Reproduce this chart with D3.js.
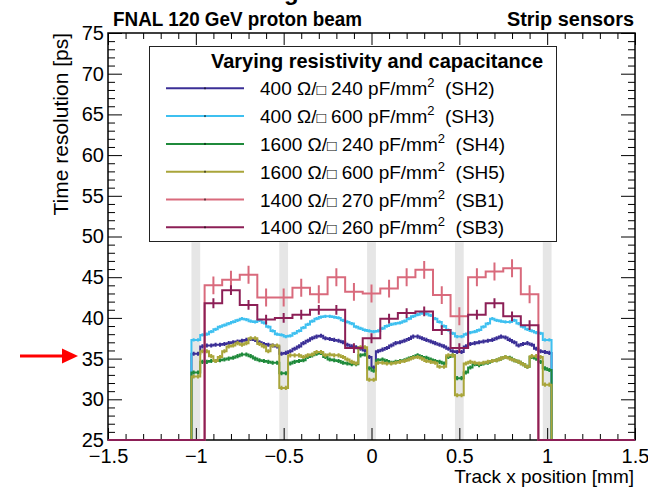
<!DOCTYPE html>
<html>
<head>
<meta charset="utf-8">
<script src="https://cdn.jsdelivr.net/npm/d3@7"></script>
<style>
  body { margin: 0; background: #fff; }
  svg text { font-family: "Liberation Sans", Arial, Helvetica, sans-serif; fill: #000; }
</style>
</head>
<body>
<svg id="chart" width="648" height="488"></svg>
<script>
// --- data ---
const seriesNames = ['SH2', 'SH3', 'SH4', 'SH5', 'SB1', 'SB3'];
const resistivity = [400, 400, 1600, 1600, 1400, 1400];      // Ohm/sq
const capacitance = [240, 600, 240, 600, 270, 260];          // pF/mm^2

// SH sensors: 0.025 mm bins from -1.025 to 1.025 mm
const SH_X0 = -1.025, SH_BIN = 0.025;
const sh2 = [35.6, 35.6, 36.5, 36.6, 36.6, 36.7, 36.7, 36.8, 36.9, 37.0, 37.1, 37.2, 37.3, 37.4, 37.3, 37.0, 36.8, 36.7, 36.6, 36.5,
             35.6, 35.7, 35.9, 36.2, 36.5, 36.9, 37.2, 37.5, 37.7, 37.8, 37.5, 37.4, 37.3, 37.2, 37.0, 36.7, 36.5, 36.4, 36.2, 36.0,
             35.2, 33.9, 35.9, 36.1, 36.3, 36.6, 36.9, 37.0, 37.2, 37.4, 37.7, 37.7, 37.5, 37.3, 37.1, 36.9, 36.7, 36.5, 36.2, 35.9,
             35.8, 35.8, 36.5, 36.8, 36.9, 37.0, 37.1, 37.2, 37.3, 37.5, 37.7, 37.6, 37.3, 37.0, 36.6, 36.8, 36.9, 36.7, 36.2, 35.9, 35.8, 35.7];
const sh3 = [37.3, 37.3, 37.9, 38.0, 38.3, 38.6, 38.9, 39.1, 39.3, 39.5, 39.7, 39.9, 39.8, 39.6, 39.5, 39.7, 39.4, 38.9, 38.4, 38.0,
             37.9, 37.7, 37.8, 38.1, 38.4, 38.8, 39.2, 39.6, 39.9, 40.1, 40.2, 40.2, 40.1, 40.0, 39.7, 39.5, 39.3, 38.9, 38.7, 38.5,
             38.4, 38.3, 38.4, 38.7, 39.0, 39.2, 39.3, 39.4, 39.6, 39.9, 40.2, 40.4, 40.6, 40.5, 40.3, 39.9, 39.5, 39.0, 38.5, 38.1,
             37.7, 37.7, 38.0, 38.2, 38.3, 38.5, 38.9, 39.3, 39.9, 39.7, 39.6, 39.5, 39.5, 39.7, 39.3, 38.9, 38.6, 38.4, 38.2, 38.1, 37.3, 37.3];
const sh4 = [33.3, 33.3, 34.6, 34.6, 34.7, 34.7, 34.8, 34.9, 35.0, 35.1, 35.3, 35.5, 35.5, 35.3, 35.0, 34.8, 34.7, 34.6, 34.5, 34.5,
             33.2, 33.2, 34.4, 34.6, 34.7, 34.8, 35.2, 35.4, 35.6, 35.7, 35.2, 34.9, 34.8, 34.7, 34.5, 34.4, 34.3, 34.3, 35.4, 35.5,
             33.8, 33.5, 34.8, 34.9, 34.7, 34.5, 34.6, 34.7, 34.8, 35.0, 35.2, 35.4, 35.2, 35.1, 34.9, 34.7, 34.6, 34.4, 35.2, 35.4,
             32.6, 32.6, 33.3, 33.9, 34.3, 34.2, 34.4, 34.5, 34.7, 34.8, 35.0, 35.2, 35.1, 34.8, 34.6, 34.3, 34.0, 35.2, 35.0, 34.6, 33.8, 33.6];
const sh5 = [32.8, 32.8, 35.9, 35.9, 35.3, 34.7, 35.2, 35.9, 36.5, 36.6, 36.9, 36.7, 36.9, 37.5, 37.5, 36.8, 36.5, 35.9, 36.6, 36.6,
             31.4, 31.4, 35.4, 35.4, 35.4, 35.2, 35.4, 35.5, 35.8, 35.8, 35.4, 35.5, 35.4, 35.4, 35.2, 34.9, 34.6, 34.4, 36.4, 36.4,
             32.4, 32.4, 34.5, 34.5, 34.4, 34.4, 34.5, 34.6, 34.7, 34.9, 35.1, 35.2, 35.0, 34.7, 34.6, 34.5, 34.0, 34.0, 35.4, 35.4,
             30.5, 30.5, 34.4, 34.6, 34.5, 34.4, 34.5, 34.6, 34.7, 34.8, 35.0, 35.2, 35.0, 34.8, 34.6, 34.3, 34.0, 35.3, 35.3, 35.2, 31.8, 31.8];

// SB sensors: 0.1 mm bins from -0.95 to 0.95 mm
const SB_X0 = -0.95, SB_BIN = 0.1;
const sb1 = [44.0, 44.7, 45.3, 42.5, 42.5, 43.7, 42.9, 45.0, 43.2, 43.0, 43.6, 45.0, 45.9, 42.8, 40.2, 45.0, 45.7, 46.1, 42.9];
const sb3 = [41.8, 43.4, 41.6, 39.8, 40.0, 40.4, 41.0, 41.0, 36.3, 37.5, 39.9, 40.6, 40.8, 38.5, 36.3, 40.4, 41.8, 40.2, 39.1];

// statistical uncertainty per series (ps)
const seriesErr = [0.25, 0.2, 0.25, 0.25, 1.1, 0.6];

// strip metal positions (mm)
const stripCenters = [-1, -0.5, 0, 0.5, 1];
const STRIP_HALF = 0.025, STRIP_TOP = 49.3;

const xMajor = [-1.5, -1, -0.5, 0, 0.5, 1, 1.5];
const yMajor = [25, 30, 35, 40, 45, 50, 55, 60, 65, 70, 75];

// --- layout ---
const L = 108, R = 635, T = 33, B = 440;
const colors = ['#3b2f96', '#3ec0f0', '#1f8a3b', '#a9a53a', '#d96a7c', '#8c1f56'];

const svg = d3.select('#chart');
const x = d3.scaleLinear().domain([-1.5, 1.5]).range([L, R]);
const y = d3.scaleLinear().domain([25, 75]).range([B, T]).clamp(true);

const series = [
    {vals: sh2, x0: SH_X0, bin: SH_BIN},
    {vals: sh3, x0: SH_X0, bin: SH_BIN},
    {vals: sh4, x0: SH_X0, bin: SH_BIN},
    {vals: sh5, x0: SH_X0, bin: SH_BIN},
    {vals: sb1, x0: SB_X0, bin: SB_BIN},
    {vals: sb3, x0: SB_X0, bin: SB_BIN}
];

// strip bands
svg.append('g').selectAll('rect')
    .data(stripCenters)
    .enter().append('rect')
    .attr('x', d => x(d - STRIP_HALF))
    .attr('width', d => x(d + STRIP_HALF) - x(d - STRIP_HALF))
    .attr('y', y(STRIP_TOP))
    .attr('height', y(25) - y(STRIP_TOP))
    .attr('fill', '#e6e6e6');

// axes (ticks inside the frame, on all four sides)
const xMinor = d3.range(-15, 16).map(i => i / 10).filter(v => !xMajor.some(m => Math.abs(m - v) < 1e-9));
const yMinor = d3.range(25, 76).filter(v => v % 5 !== 0);

function styleAxis(g) {
    g.select('.domain').remove();
    g.selectAll('line').attr('stroke', '#000').attr('stroke-width', 1);
    g.selectAll('text').attr('font-size', 20).attr('fill', '#000');
}

svg.append('g').attr('transform', `translate(0,${B})`)
    .call(d3.axisBottom(x).tickValues(xMajor).tickSize(-12).tickPadding(9).tickFormat(d3.format('~g')))
    .call(styleAxis);
svg.append('g').attr('transform', `translate(0,${B})`)
    .call(d3.axisBottom(x).tickValues(xMinor).tickSize(-6).tickFormat(''))
    .call(styleAxis);
svg.append('g').attr('transform', `translate(0,${T})`)
    .call(d3.axisTop(x).tickValues(xMajor).tickSize(-12).tickFormat(''))
    .call(styleAxis);
svg.append('g').attr('transform', `translate(0,${T})`)
    .call(d3.axisTop(x).tickValues(xMinor).tickSize(-6).tickFormat(''))
    .call(styleAxis);

svg.append('g').attr('transform', `translate(${L},0)`)
    .call(d3.axisLeft(y).tickValues(yMajor).tickSize(-14).tickPadding(4).tickFormat(d3.format('d')))
    .call(styleAxis);
svg.append('g').attr('transform', `translate(${L},0)`)
    .call(d3.axisLeft(y).tickValues(yMinor).tickSize(-7).tickFormat(''))
    .call(styleAxis);
svg.append('g').attr('transform', `translate(${R},0)`)
    .call(d3.axisRight(y).tickValues(yMajor).tickSize(-14).tickFormat(''))
    .call(styleAxis);
svg.append('g').attr('transform', `translate(${R},0)`)
    .call(d3.axisRight(y).tickValues(yMinor).tickSize(-7).tickFormat(''))
    .call(styleAxis);

svg.append('rect')
    .attr('x', L).attr('y', T).attr('width', R - L).attr('height', B - T)
    .attr('fill', 'none').attr('stroke', '#000').attr('stroke-width', 1.5);

// histograms
svg.append('clipPath').attr('id', 'frameClip')
    .append('rect').attr('x', L).attr('y', T).attr('width', R - L).attr('height', B - T + 1.5);

const plot = svg.append('g').attr('clip-path', 'url(#frameClip)');
const line = d3.line().x(d => x(d[0])).y(d => y(d[1]));

function stepPoints(s) {
    const n = s.vals.length;
    const pts = [[-1.5, 0], [s.x0, 0]];
    s.vals.forEach((v, i) => {
        pts.push([s.x0 + i * s.bin, v]);
        pts.push([s.x0 + (i + 1) * s.bin, v]);
    });
    pts.push([s.x0 + n * s.bin, 0]);
    pts.push([1.5, 0]);
    return pts;
}

series.forEach((s, k) => {
    const g = plot.append('g');
    g.append('path')
        .datum(stepPoints(s))
        .attr('d', line)
        .attr('fill', 'none')
        .attr('stroke', colors[k])
        .attr('stroke-width', 2)
        .attr('stroke-linejoin', 'miter');
    g.selectAll('line')
        .data(s.vals)
        .enter().append('line')
        .attr('x1', (v, i) => x(s.x0 + (i + 0.5) * s.bin))
        .attr('x2', (v, i) => x(s.x0 + (i + 0.5) * s.bin))
        .attr('y1', v => y(v - seriesErr[k]))
        .attr('y2', v => y(v + seriesErr[k]))
        .attr('stroke', colors[k])
        .attr('stroke-width', 2);
});

// legend
const leg = svg.append('g');
leg.append('rect')
    .attr('x', 149.5).attr('y', 46.5).attr('width', 407).attr('height', 195)
    .attr('fill', '#fff').attr('stroke', '#222').attr('stroke-width', 1);
leg.append('text')
    .attr('x', 211).attr('y', 68)
    .attr('font-size', 20).attr('font-weight', 'bold')
    .attr('textLength', 332).attr('lengthAdjust', 'spacingAndGlyphs')
    .text('Varying resistivity and capacitance');

seriesNames.forEach((name, i) => {
    const ly = 88.3 + i * 27.8;
    leg.append('line')
        .attr('x1', 166).attr('x2', 244).attr('y1', ly).attr('y2', ly)
        .attr('stroke', colors[i]).attr('stroke-width', 2);
    leg.append('line')
        .attr('x1', 205).attr('x2', 205).attr('y1', ly - 1).attr('y2', ly + 1)
        .attr('stroke', '#000').attr('stroke-width', 1);
    const t = leg.append('text')
        .attr('x', 260).attr('y', ly + 7)
        .attr('font-size', 19)
        .style('white-space', 'pre');
    t.append('tspan').text(`${resistivity[i]} Ω/`);
    t.append('tspan').attr('font-size', 15.5).text('□');
    t.append('tspan').text(` ${capacitance[i]} pF/mm`);
    t.append('tspan').attr('font-size', 13).attr('dy', -8).text('2');
    t.append('tspan').attr('dy', 8).text(`  (${name})`);
});

// header texts
svg.append('text')
    .attr('x', 284).attr('y', 0)
    .attr('font-size', 24).attr('font-weight', 'bold')
    .text('g');
svg.append('text')
    .attr('x', 113).attr('y', 26)
    .attr('font-size', 20).attr('font-weight', 'bold')
    .attr('textLength', 249).attr('lengthAdjust', 'spacingAndGlyphs')
    .text('FNAL 120 GeV proton beam');
svg.append('text')
    .attr('x', 507).attr('y', 26)
    .attr('font-size', 20).attr('font-weight', 'bold')
    .attr('textLength', 127).attr('lengthAdjust', 'spacingAndGlyphs')
    .text('Strip sensors');

// axis titles
svg.append('text')
    .attr('x', 634).attr('y', 483)
    .attr('text-anchor', 'end')
    .attr('font-size', 19)
    .text('Track x position [mm]');
svg.append('text')
    .attr('transform', `translate(68,${T}) rotate(-90)`)
    .attr('text-anchor', 'end')
    .attr('font-size', 21)
    .text('Time resolution [ps]');

// red arrow pointing at 35 ps
const arrowY = y(35) - 2.5;
svg.append('line')
    .attr('x1', 20).attr('x2', 64).attr('y1', arrowY).attr('y2', arrowY)
    .attr('stroke', '#ff0000').attr('stroke-width', 3);
svg.append('path')
    .attr('d', `M62,${arrowY - 7.5} L78,${arrowY} L62,${arrowY + 7.5} Z`)
    .attr('fill', '#ff0000');
</script>
</body>
</html>
